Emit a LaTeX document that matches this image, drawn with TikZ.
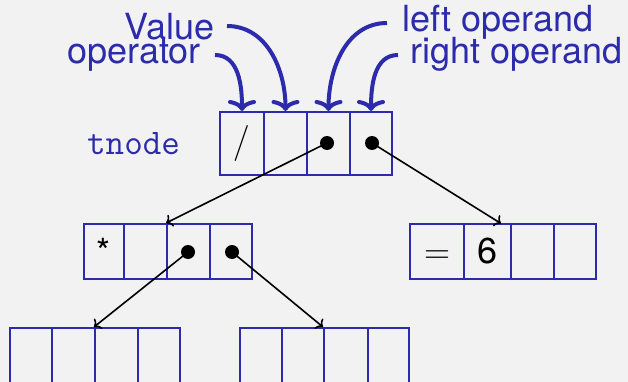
\documentclass[tikz,border=0pt]{standalone}
\usepackage{fontspec}
\setmainfont{TeX Gyre Heros}
\newfontfamily\lmfont{Latin Modern Roman}
\usetikzlibrary{arrows.meta}
\definecolor{bblue}{RGB}{43,43,171}
\definecolor{bgray}{RGB}{242,242,242}
\begin{document}
\begin{tikzpicture}[x=1pt,y=-1pt,
  cellbox/.style={draw=bblue, line width=2pt, inner sep=0pt, font=\fontsize{36}{40}\selectfont},
  lab/.style={text=bblue, inner sep=0pt, font=\fontsize{36}{40}\selectfont},
  dotnode/.style={circle, fill=black, inner sep=0pt, minimum size=14pt},
  barrow/.style={draw=bblue, line width=4pt, -{Computer Modern Rightarrow[length=11pt,width=28pt]}},
  karrow/.style={draw=black, line width=1.6pt, -{Computer Modern Rightarrow[length=6pt,width=13pt]}}]
\useasboundingbox (0,0) rectangle (628,382);
\fill[bgray] (0,0) rectangle (628,382);
\clip (0,0) rectangle (628,382);
% labels
\node[lab, anchor=base west] (value) at (124,40) {Value};
\node[lab, anchor=base west] (operator) at (67,64) {operator};
\node[lab, anchor=base west] (left) at (402,32) {left operand};
\node[lab, anchor=base west] (right) at (410,64) {right operand};
\node[lab, anchor=base west, font=\fontsize{36}{40}\selectfont\ttfamily] (tnode) at (87,154) {tnode};
% top record
\node[cellbox, minimum width=44pt, minimum height=63pt] (t1) at (242,143.5) {\lmfont /};
\node[cellbox, minimum width=43pt, minimum height=63pt] (t2) at (285.5,143.5) {};
\node[cellbox, minimum width=43pt, minimum height=63pt] (t3) at (328.5,143.5) {};
\node[cellbox, minimum width=42pt, minimum height=63pt] (t4) at (371,143.5) {};
% middle left record
\node[cellbox, minimum width=40pt, minimum height=55pt] (a1) at (104,251.5) {\vphantom{6}*};
\node[cellbox, minimum width=43pt, minimum height=55pt] (a2) at (145.5,251.5) {};
\node[cellbox, minimum width=43pt, minimum height=55pt] (a3) at (188.5,251.5) {};
\node[cellbox, minimum width=42pt, minimum height=55pt] (a4) at (231,251.5) {};
% middle right record
\node[cellbox, minimum width=54pt, minimum height=55pt] (b1) at (437,251.5) {\vphantom{6}\lmfont =};
\node[cellbox, minimum width=47pt, minimum height=55pt] (b2) at (487.5,251.5) {6};
\node[cellbox, minimum width=43pt, minimum height=55pt] (b3) at (532.5,251.5) {};
\node[cellbox, minimum width=42pt, minimum height=55pt] (b4) at (575,251.5) {};
% bottom left record
\node[cellbox, minimum width=42pt, minimum height=64pt] (c1) at (31,360) {};
\node[cellbox, minimum width=43pt, minimum height=64pt] (c2) at (73.5,360) {};
\node[cellbox, minimum width=43pt, minimum height=64pt] (c3) at (116.5,360) {};
\node[cellbox, minimum width=42pt, minimum height=64pt] (c4) at (159,360) {};
% bottom right record
\node[cellbox, minimum width=42pt, minimum height=64pt] (e1) at (261,360) {};
\node[cellbox, minimum width=42pt, minimum height=64pt] (e2) at (303,360) {};
\node[cellbox, minimum width=44pt, minimum height=64pt] (e3) at (346,360) {};
\node[cellbox, minimum width=41pt, minimum height=64pt] (e4) at (388.5,360) {};
% dots
\node[dotnode] (d1) at (327,143) {};
\node[dotnode] (d2) at (372,143) {};
\node[dotnode] (d3) at (188,252) {};
\node[dotnode] (d4) at (232,252) {};
% blue arrows
\coordinate (sop) at (215,55);
\coordinate (sval) at (227,26);
\coordinate (slo) at (387,23);
\coordinate (sro) at (398,55);
\draw[barrow] (sop) to[out=0,in=90] (t1.north);
\draw[barrow] (sval) to[out=0,in=90] (t2.north);
\draw[barrow] (slo) to[out=180,in=90] (t3.north);
\draw[barrow] (sro) to[out=180,in=90] (t4.north);
% black arrows
\coordinate (bt) at (501,223.5);
\draw[karrow] (d1.center) -- (a3.north west);
\draw[karrow] (d2.center) -- (bt);
\draw[karrow] (d3.center) -- (c3.north west);
\draw[karrow] (d4.center) -- (e3.north west);
\end{tikzpicture}
\end{document}
